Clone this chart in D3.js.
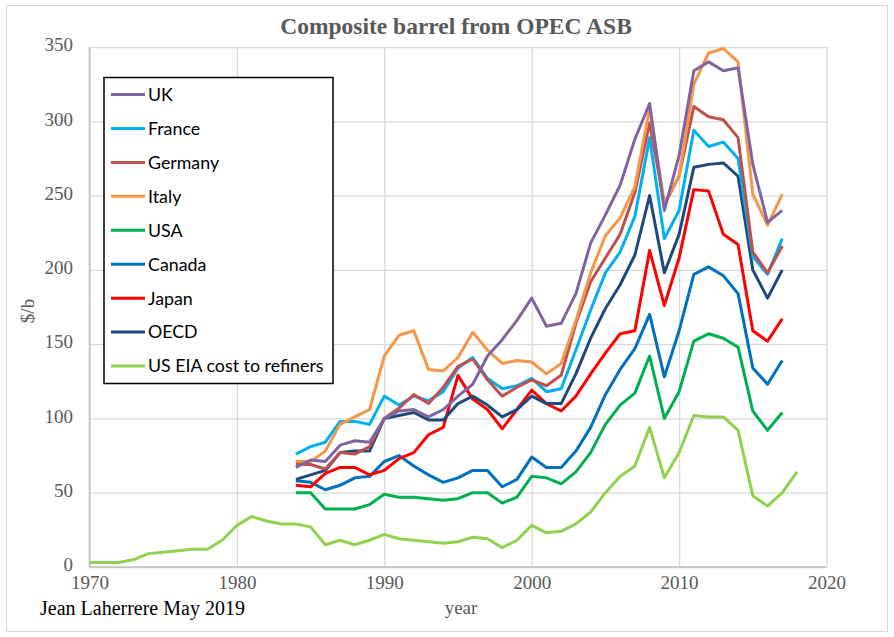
<!DOCTYPE html>
<html lang="en">
<head>
<meta charset="UTF-8">
<title>Composite barrel from OPEC ASB</title>
<script src="https://d3js.org/d3.v7.min.js"></script>
<style>
  body { margin: 0; background: #fff; }
  .tick text { font-family: "Liberation Serif", "Times New Roman", serif; font-size: 19px; fill: #595959; }
  .grid line { stroke: #d9d9d9; stroke-width: 1.3; }
</style>
</head>
<body>
<div id="chart"></div>
<script>
// years for the OPEC ASB series
const years = d3.range(1984, 2018);
const eiaYears = d3.range(1970, 2019);

const uk      = [67, 72, 71, 82, 85, 84, 100, 105, 106, 101, 106, 115, 123, 142, 153, 166, 181, 162, 164, 184, 218, 237, 257, 288, 312, 240, 277, 334, 340, 334, 336, 271, 232, 240];
const france  = [76, 81, 84, 98, 98, 96, 115, 109, 115, 112, 118, 134, 141, 127, 120, 122, 127, 118, 120, 146, 173, 198, 212, 236, 289, 221, 240, 294, 283, 286, 275, 209, 197, 221];
const germany = [69, 69, 66, 77, 76, 81, 100, 107, 116, 110, 121, 135, 140, 126, 115, 121, 126, 122, 129, 164, 192, 208, 224, 252, 299, 244, 263, 310, 303, 301, 289, 212, 198, 216];
const italy   = [71, 71, 78, 96, 101, 106, 142, 156, 159, 133, 132, 141, 158, 146, 137, 139, 138, 130, 137, 166, 198, 223, 235, 256, 309, 245, 263, 325, 346, 349, 340, 251, 230, 251];
const usa     = [50, 50, 39, 39, 39, 42, 49, 47, 47, 46, 45, 46, 50, 50, 43, 47, 61, 60, 56, 64, 77, 96, 109, 117, 142, 100, 118, 152, 157, 154, 148, 105, 92, 104];
const canada  = [58, 57, 52, 55, 60, 61, 71, 75, 68, 62, 57, 60, 65, 65, 54, 59, 74, 67, 67, 78, 94, 116, 133, 147, 170, 128, 159, 197, 202, 196, 184, 134, 123, 139];
const japan   = [55, 54, 63, 67, 67, 62, 65, 73, 77, 89, 94, 129, 113, 106, 93, 106, 119, 110, 105, 115, 130, 144, 157, 159, 213, 176, 208, 254, 253, 224, 217, 159, 152, 167];
const oecd    = [59, 62, 65, 77, 78, 78, 100, 102, 104, 99, 99, 110, 115, 109, 101, 106, 115, 110, 110, 130, 154, 174, 190, 210, 250, 198, 224, 269, 271, 272, 263, 200, 181, 200];
const usEia   = [3, 3, 3, 5, 9, 10, 11, 12, 12, 18, 28, 34, 31, 29, 29, 27, 15, 18, 15, 18, 22, 19, 18, 17, 16, 17, 20, 19, 13, 18, 28, 23, 24, 29, 37, 50, 61, 68, 94, 60, 77, 102, 101, 101, 92, 48, 41, 50, 64];

const seriesNames  = ["UK", "France", "Germany", "Italy", "USA", "Canada", "Japan", "OECD", "US EIA cost to refiners"];
const seriesColors = ["#8064A2", "#00B0F0", "#C0504D", "#F79646", "#00B050", "#0070C0", "#FF0000", "#1F497D", "#92D050"];
const seriesValues = [uk, france, germany, italy, usa, canada, japan, oecd, usEia];
const seriesYears  = [years, years, years, years, years, years, years, years, eiaYears];

const xTicks = [1970, 1980, 1990, 2000, 2010, 2020];
const yTicks = [0, 50, 100, 150, 200, 250, 300, 350];

const width = 894, height = 637;
const plotLeft = 89.5, plotRight = 826.5, plotTop = 47, plotBottom = 567;

const svg = d3.select("#chart").append("svg")
    .attr("width", width)
    .attr("height", height);

// outer chart frame
svg.append("rect")
    .attr("x", 6.5).attr("y", 5.5)
    .attr("width", 881).attr("height", 626)
    .attr("fill", "#fff")
    .attr("stroke", "#d9d9d9");

const x = d3.scaleLinear().domain([1970, 2020]).range([plotLeft, plotRight]);
const y = d3.scaleLinear().domain([0, 350]).range([plotBottom, plotTop]);

// horizontal grid + y labels
const yAxis = svg.append("g")
    .attr("class", "grid")
    .attr("transform", `translate(${plotLeft},0)`)
    .call(d3.axisLeft(y).tickValues(yTicks).tickSize(-(plotRight - plotLeft)).tickPadding(16.5));
yAxis.select(".domain").remove();
yAxis.selectAll(".tick text").attr("dy", "0.2em");

// vertical grid + x labels
const xAxis = svg.append("g")
    .attr("class", "grid")
    .attr("transform", `translate(0,${plotBottom})`)
    .call(d3.axisBottom(x).tickValues(xTicks).tickFormat(d3.format("d")).tickSize(-(plotBottom - plotTop)).tickPadding(9));
xAxis.select(".domain").remove();

// axis lines
svg.append("line")
    .attr("x1", plotLeft).attr("x2", plotLeft).attr("y1", plotTop).attr("y2", plotBottom)
    .attr("stroke", "#bfbfbf").attr("stroke-width", 1.5);
svg.append("line")
    .attr("x1", plotLeft).attr("x2", plotRight).attr("y1", plotBottom).attr("y2", plotBottom)
    .attr("stroke", "#bfbfbf").attr("stroke-width", 1.5);

// lines (draw EIA first so the country series sit on top)
const line = d3.line()
    .x(d => x(d[0]))
    .y(d => y(d[1]));

const order = [8, 4, 5, 6, 7, 1, 2, 3, 0];
order.forEach(i => {
    const pts = seriesYears[i].map((yr, k) => [yr, seriesValues[i][k]]);
    svg.append("path")
        .datum(pts)
        .attr("fill", "none")
        .attr("stroke", seriesColors[i])
        .attr("stroke-width", 3)
        .attr("stroke-linejoin", "round")
        .attr("d", line);
});

// title
svg.append("text")
    .attr("x", 456).attr("y", 34)
    .attr("text-anchor", "middle")
    .attr("font-family", "Liberation Serif, Times New Roman, serif")
    .attr("font-weight", "bold")
    .attr("font-size", 23.5)
    .attr("fill", "#595959")
    .text("Composite barrel from OPEC ASB");

// axis titles
svg.append("text")
    .attr("transform", "translate(34,311) rotate(-90)")
    .attr("text-anchor", "middle")
    .attr("font-family", "Liberation Serif, Times New Roman, serif")
    .attr("font-size", 19)
    .attr("fill", "#595959")
    .text("$/b");

svg.append("text")
    .attr("x", 461).attr("y", 614)
    .attr("text-anchor", "middle")
    .attr("font-family", "Liberation Serif, Times New Roman, serif")
    .attr("font-size", 19)
    .attr("fill", "#595959")
    .text("year");

svg.append("text")
    .attr("x", 40).attr("y", 615)
    .attr("font-family", "Liberation Serif, Times New Roman, serif")
    .attr("font-size", 20)
    .attr("fill", "#000")
    .text("Jean Laherrere May 2019");

// legend
const legend = svg.append("g");
legend.append("rect")
    .attr("x", 104).attr("y", 77.5)
    .attr("width", 229).attr("height", 306)
    .attr("fill", "#fff")
    .attr("stroke", "#000")
    .attr("stroke-width", 1.5);

const legendY = d3.scaleLinear().domain([0, 8]).range([94.5, 366]);
seriesNames.forEach((name, i) => {
    const ly = legendY(i);
    legend.append("line")
        .attr("x1", 111).attr("x2", 145)
        .attr("y1", ly).attr("y2", ly)
        .attr("stroke", seriesColors[i])
        .attr("stroke-width", 3);
    legend.append("text")
        .attr("x", 148).attr("y", ly)
        .attr("dy", "0.36em")
        .attr("font-family", "Lato, Open Sans, sans-serif")
        .attr("font-size", 17.8)
        .attr("fill", "#000")
        .text(name);
});
</script>
</body>
</html>
